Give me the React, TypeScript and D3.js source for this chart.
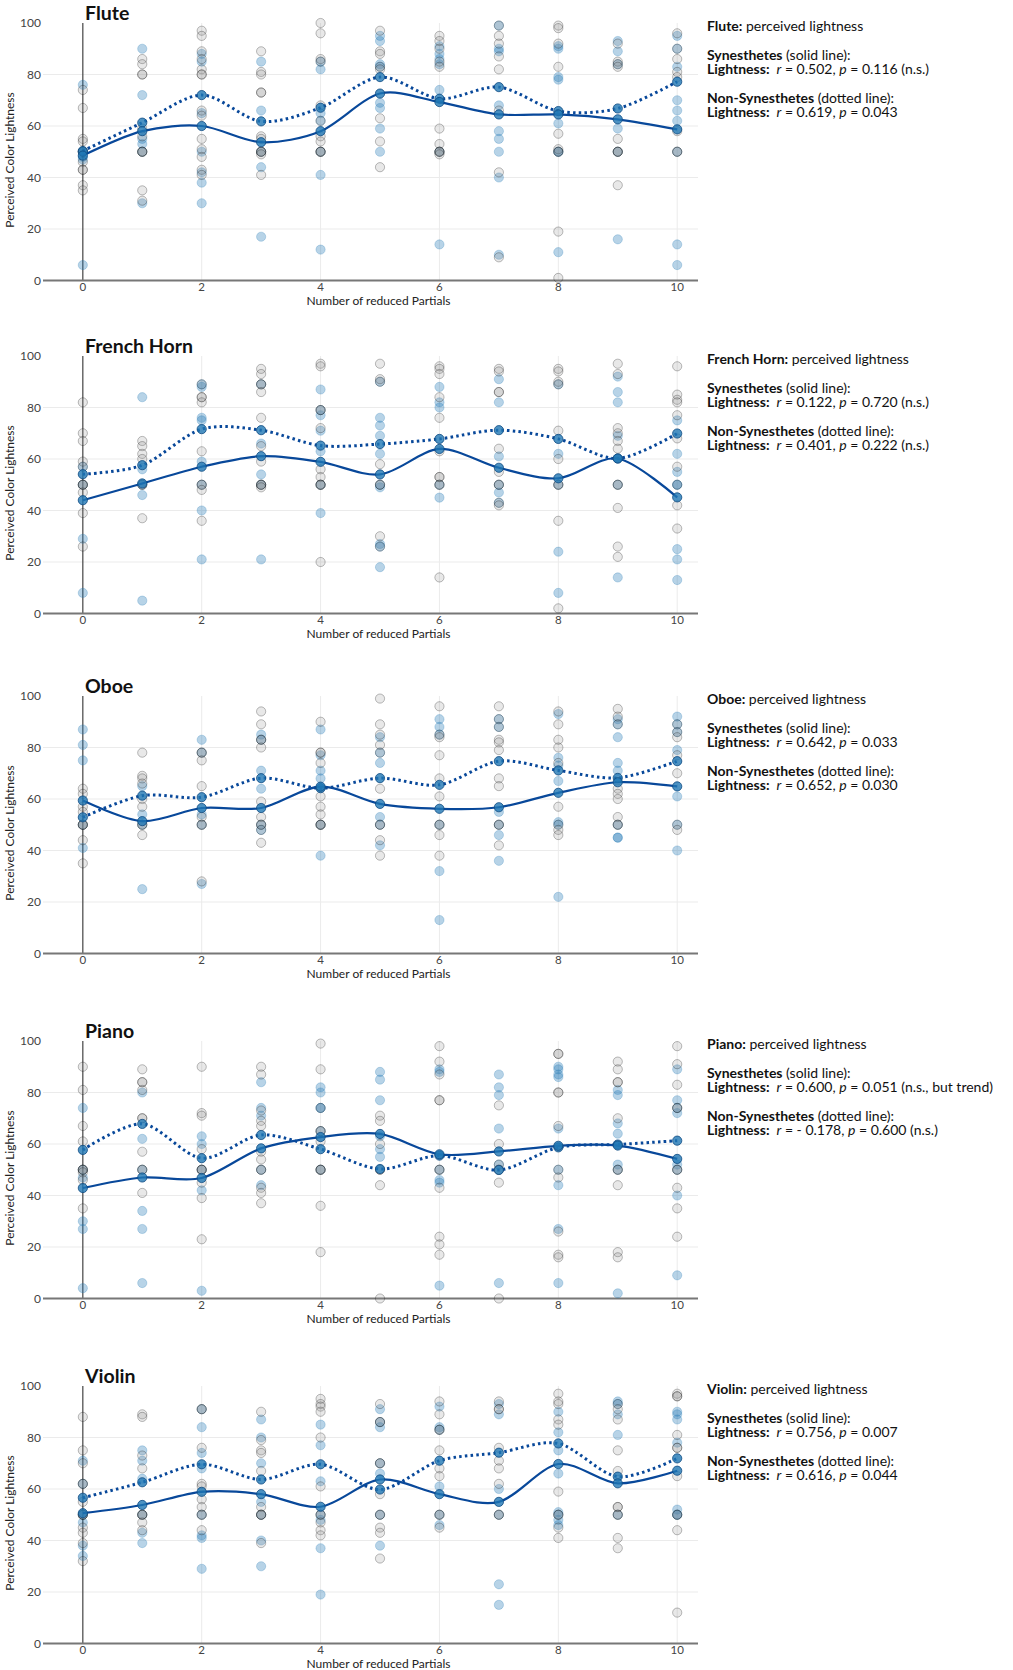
import * as d3 from 'd3';

// number of reduced partials
const partials = [0, 1, 2, 3, 4, 5, 6, 7, 8, 9, 10];
const xTicks = [0, 2, 4, 6, 8, 10];
const yTicks = [0, 20, 40, 60, 80, 100];
const instruments = ['Flute', 'French Horn', 'Oboe', 'Piano', 'Violin'];

// Flute
const fluteSynMean = [48.5, 58, 60, 53.7, 58, 72.6, 69.3, 64.5, 64.5, 62.6, 58.7];
const fluteNonMean = [50.3, 61.3, 72, 61.8, 67.1, 79, 70.6, 75.1, 65.8, 66.8, 77.2];
const fluteSynPts = [
  [76, 50, 50, 48, 47, 6], [90, 72, 55, 53, 50, 30], [88, 85, 65, 50, 42, 38, 30],
  [85, 66, 50, 44, 17], [85, 82, 65, 62, 50, 41, 12], [95, 93, 84, 83, 69, 67, 59, 50],
  [91, 88, 86, 84, 74, 50, 14], [99, 90, 89, 68, 58, 55, 50, 40, 10],
  [91, 90, 79, 78, 61, 50, 50, 11], [93, 89, 84, 59, 50, 16], [95, 90, 83, 70, 66, 62, 50, 14, 6],
];
const fluteNonPts = [
  [74, 67, 55, 54, 50, 50, 50, 46, 43, 43, 37, 35], [86, 84, 80, 80, 59, 56, 50, 50, 50, 35, 31],
  [97, 95, 89, 86, 82, 80, 80, 66, 64, 55, 51, 48, 43, 41], [89, 81, 80, 73, 73, 56, 55, 50, 50, 50, 49, 41],
  [100, 96, 86, 85, 68, 62, 56, 54, 50, 50, 50], [97, 89, 88, 83, 82, 63, 54, 44],
  [95, 93, 90, 85, 83, 59, 53, 50, 50, 50, 49], [99, 95, 92, 87, 82, 66, 42, 9],
  [99, 98, 92, 83, 57, 51, 50, 50, 19, 1], [92, 85, 84, 83, 55, 50, 50, 50, 37],
  [96, 90, 86, 81, 79, 58, 50, 50],
];

// French Horn
const hornSynMean = [44, 50.5, 57, 61.1, 58.9, 54, 63.9, 56.6, 52.5, 60.2, 45.1];
const hornNonMean = [54.1, 57.6, 71.6, 71.2, 65.2, 65.8, 67.8, 71.2, 67.8, 60.2, 69.9];
const hornSynPts = [
  [57, 50, 29, 8], [84, 56, 50, 46, 5], [89, 88, 76, 75, 59, 50, 40, 21], [89, 66, 54, 50, 21],
  [87, 79, 77, 71, 63, 50, 39], [90, 76, 73, 69, 62, 50, 49, 27, 26, 18], [88, 82, 80, 50, 45],
  [91, 82, 61, 50, 47, 43], [89, 62, 50, 24, 8], [92, 86, 82, 69, 50, 14], [75, 62, 55, 50, 50, 25, 21, 13],
];
const hornNonPts = [
  [82, 70, 67, 59, 57, 50, 50, 50, 47, 39, 26], [67, 65, 62, 60, 50, 50, 37],
  [89, 84, 84, 82, 63, 50, 50, 48, 36], [95, 93, 89, 89, 86, 76, 65, 59, 50, 50, 50, 49],
  [97, 96, 79, 79, 72, 56, 53, 50, 50, 50, 20], [97, 91, 90, 58, 50, 50, 30, 26],
  [96, 95, 93, 84, 76, 63, 53, 53, 50, 50, 14], [95, 94, 86, 86, 64, 55, 50, 50, 43, 42],
  [95, 94, 90, 89, 71, 60, 50, 50, 36, 2], [97, 93, 72, 70, 67, 64, 50, 50, 41, 26, 22],
  [96, 85, 83, 82, 77, 68, 57, 50, 42, 33],
];

// Oboe
const oboeSynMean = [59.4, 51.4, 56.5, 56.5, 64.8, 58.1, 56.2, 56.8, 62.4, 66.5, 64.9];
const oboeNonMean = [52.9, 61.3, 60.7, 68.1, 64.2, 68.1, 65.5, 74.7, 71.1, 68.2, 74.7];
const oboeSynPts = [
  [87, 81, 75, 50, 41], [65, 54, 50, 25], [83, 78, 54, 50, 27], [85, 83, 71, 64, 50, 48],
  [87, 77, 71, 68, 50, 38], [84, 78, 74, 53, 50, 42], [91, 88, 85, 50, 32, 13], [91, 88, 55, 50, 46, 36],
  [93, 76, 73, 67, 51, 50, 22], [91, 89, 84, 74, 71, 50, 45, 45], [92, 89, 86, 79, 61, 50, 40],
];
const oboeNonPts = [
  [64, 62, 57, 55, 50, 50, 50, 44, 35], [78, 69, 68, 66, 60, 57, 50, 50, 46], [78, 78, 75, 65, 53, 50, 50, 28],
  [94, 89, 83, 83, 80, 59, 53, 50, 50, 48, 43], [90, 78, 78, 74, 61, 57, 54, 50, 50, 50],
  [99, 89, 85, 81, 78, 64, 50, 50, 44, 38], [96, 85, 84, 77, 68, 61, 50, 50, 46, 38],
  [96, 91, 88, 83, 82, 79, 68, 65, 50, 50, 42], [94, 89, 83, 80, 74, 57, 50, 48, 46],
  [95, 92, 89, 64, 62, 60, 53, 50, 50], [89, 86, 84, 77, 70, 50, 48],
];

// Piano
const pianoSynMean = [42.9, 47, 46.8, 58.3, 62.7, 63.9, 56, 57.1, 59.3, 59.4, 54.2];
const pianoNonMean = [57.7, 67.8, 54.5, 63.5, 58, 50.3, 55.5, 49.9, 58.7, 59.8, 61.3];
const pianoSynPts = [
  [74, 50, 47, 30, 27, 4], [80, 62, 50, 34, 27, 6], [63, 60, 50, 42, 3], [84, 74, 71, 50, 44],
  [82, 80, 74, 74, 65, 50], [88, 85, 77, 63, 58, 55], [89, 88, 50, 46, 45, 5], [87, 82, 79, 66, 52, 6],
  [90, 89, 87, 86, 66, 50, 44, 27, 6], [81, 79, 68, 64, 52, 50, 2], [89, 77, 74, 72, 52, 50, 40, 9],
];
const pianoNonPts = [
  [90, 81, 67, 61, 50, 50, 50, 49, 46, 35], [89, 84, 84, 81, 70, 70, 57, 50, 50, 41],
  [90, 72, 71, 58, 50, 50, 50, 45, 39, 23], [90, 87, 73, 69, 67, 57, 54, 50, 50, 43, 41, 37],
  [99, 89, 74, 65, 65, 61, 50, 50, 50, 36, 18], [71, 69, 60, 50, 50, 44, 0],
  [98, 92, 87, 77, 77, 50, 50, 43, 24, 21, 17], [75, 60, 52, 50, 50, 45, 0],
  [95, 95, 80, 80, 67, 50, 47, 26, 17, 16], [92, 89, 84, 84, 70, 50, 50, 44, 18, 16],
  [98, 91, 83, 74, 74, 50, 50, 43, 35, 24],
];

// Violin
const violinSynMean = [50.6, 53.8, 58.9, 58, 53.1, 63.7, 58, 55, 69.7, 62.2, 67.1];
const violinNonMean = [56.6, 62.6, 69.6, 63.7, 69.6, 59.8, 71, 74.1, 77.7, 64.8, 71.9];
const violinSynPts = [
  [71, 62, 50, 47, 38, 34], [75, 71, 64, 50, 43, 39], [91, 84, 74, 68, 50, 42, 41, 29],
  [87, 80, 70, 55, 50, 40, 30], [85, 77, 63, 50, 48, 37, 19], [91, 86, 84, 70, 66, 50, 38],
  [92, 84, 83, 61, 50, 46], [93, 89, 60, 50, 23, 15], [90, 82, 75, 66, 51, 50, 48, 46],
  [94, 93, 89, 81, 50], [90, 89, 87, 78, 52, 50, 50],
];
const violinNonPts = [
  [88, 75, 70, 62, 62, 55, 50, 50, 50, 45, 43, 39, 32], [89, 88, 73, 68, 50, 50, 50, 47, 44],
  [91, 91, 76, 62, 61, 56, 53, 50, 50, 44], [90, 79, 75, 74, 67, 53, 50, 50, 50, 39],
  [95, 93, 92, 90, 80, 61, 50, 50, 47, 44, 42], [93, 86, 86, 70, 70, 58, 50, 50, 45, 43, 33],
  [94, 89, 83, 83, 75, 68, 65, 50, 50, 45], [94, 91, 91, 76, 71, 68, 62, 50, 50],
  [97, 94, 93, 87, 85, 59, 50, 50, 45, 41], [93, 91, 87, 75, 67, 53, 53, 50, 50, 41, 37],
  [97, 96, 96, 81, 76, 76, 65, 50, 50, 44, 12],
];

// correlation statistics
const synR = ['0.502', '0.122', '0.642', '0.600', '0.756'];
const synP = ['0.116', '0.720', '0.033', '0.051', '0.007'];
const synNote = [' (n.s.)', ' (n.s.)', '', ' (n.s., but trend)', ''];
const nonR = ['0.619', '0.401', '0.652', '- 0.178', '0.616'];
const nonP = ['0.043', '0.222', '0.030', '0.600', '0.044'];
const nonNote = ['', ' (n.s.)', '', ' (n.s.)', ''];

const synMeans = [fluteSynMean, hornSynMean, oboeSynMean, pianoSynMean, violinSynMean];
const nonMeans = [fluteNonMean, hornNonMean, oboeNonMean, pianoNonMean, violinNonMean];
const synPoints = [fluteSynPts, hornSynPts, oboeSynPts, pianoSynPts, violinSynPts];
const nonPoints = [fluteNonPts, hornNonPts, oboeNonPts, pianoNonPts, violinNonPts];

const W = 1013;
const H = 1670;
const FONT = 'Lato, "Open Sans", sans-serif';
const panelTop = [23, 356, 696, 1041, 1386];
const plotH = 257.5;
const xLeft = 43;
const xRight = 698;
const lineColor = '#08489a';
const R = 4.6;

const x = d3.scaleLinear().domain([-0.67, 10.35]).range([xLeft, xRight]);

function Panel({ idx }: { idx: number }) {
  const top = panelTop[idx];
  const y = d3.scaleLinear().domain([0, 100]).range([top + plotH, top]);
  const line = d3.line<number>()
    .x((_, i) => x(partials[i]))
    .y(d => y(d))
    .curve(d3.curveCardinal.tension(0.1));
  const name = instruments[idx];
  const tx = 707;

  return (
    <g>
      {/* grid */}
      {yTicks.filter(t => t > 0 && t < 100).map(t => (
        <line key={'gy' + t} x1={xLeft} x2={xRight} y1={y(t)} y2={y(t)} stroke="#ebebeb" strokeWidth={1} />
      ))}
      {xTicks.filter(t => t > 0).map(t => (
        <line key={'gx' + t} x1={x(t)} x2={x(t)} y1={y(0)} y2={y(100)} stroke="#ebebeb" strokeWidth={1} />
      ))}
      {/* zero line */}
      <line x1={x(0)} x2={x(0)} y1={y(0)} y2={y(100)} stroke="#444" strokeWidth={1.2} />
      <line x1={xLeft} x2={xRight} y1={y(0)} y2={y(0)} stroke="#777" strokeWidth={2} />

      {/* tick labels */}
      {yTicks.map(t => (
        <text key={'ty' + t} x={41} y={y(t) + 4} textAnchor="end" fontSize={12} fill="#444" fontFamily={FONT}>{t}</text>
      ))}
      {xTicks.map(t => (
        <text key={'tx' + t} x={x(t)} y={y(0) + 10} textAnchor="middle" fontSize={11.5} fill="#444" fontFamily={FONT}>{t}</text>
      ))}
      <text x={(xLeft + xRight) / 2 + 8} y={y(0) + 24} textAnchor="middle" fontSize={12} fill="#222" fontFamily={FONT}>
        Number of reduced Partials
      </text>
      <text transform={`translate(14, ${top + 137}) rotate(-90)`} textAnchor="middle" fontSize={12} fill="#222" fontFamily={FONT}>
        Perceived Color Lightness
      </text>

      {/* individual ratings */}
      {synPoints[idx].map((vals, i) => vals.map((v, j) => (
        <circle key={`s${i}-${j}`} cx={x(partials[i])} cy={y(v)} r={R}
          fill="rgba(31,119,180,0.32)" stroke="rgba(31,119,180,0.25)" strokeWidth={1} />
      )))}
      {nonPoints[idx].map((vals, i) => vals.map((v, j) => (
        <circle key={`n${i}-${j}`} cx={x(partials[i])} cy={y(v)} r={R}
          fill="rgba(140,140,140,0.2)" stroke="rgba(0,0,0,0.26)" strokeWidth={1} />
      )))}

      {/* means */}
      <path d={line(nonMeans[idx]) || ''} fill="none" stroke={lineColor} strokeWidth={3} strokeDasharray="2.5,3.2" />
      <path d={line(synMeans[idx]) || ''} fill="none" stroke={lineColor} strokeWidth={2.2} />
      {[nonMeans[idx], synMeans[idx]].map((arr, k) => arr.map((v, i) => (
        <circle key={`m${k}-${i}`} cx={x(partials[i])} cy={y(v)} r={R}
          fill="rgba(31,119,180,0.8)" stroke="rgba(15,75,130,0.8)" strokeWidth={1} />
      )))}

      {/* title */}
      <text x={85} y={top - 3.5} fontSize={19.5} fontWeight="bold" fill="#111" fontFamily={FONT}>{name}</text>

      {/* statistics */}
      <g fontFamily={FONT} fontSize={14} fill="#111">
        <text x={tx} y={top + 8}>
          <tspan fontWeight="bold">{name}:</tspan> perceived lightness
        </text>
        <text x={tx} y={top + 37}>
          <tspan fontWeight="bold">Synesthetes</tspan> (solid line):
        </text>
        <text x={tx} y={top + 51}>
          <tspan fontWeight="bold">Lightness:</tspan>
          <tspan dx={7} fontStyle="italic">r</tspan> = {synR[idx]}, <tspan fontStyle="italic">p</tspan> = {synP[idx]}{synNote[idx]}
        </text>
        <text x={tx} y={top + 80}>
          <tspan fontWeight="bold">Non-Synesthetes</tspan> (dotted line):
        </text>
        <text x={tx} y={top + 94}>
          <tspan fontWeight="bold">Lightness:</tspan>
          <tspan dx={7} fontStyle="italic">r</tspan> = {nonR[idx]}, <tspan fontStyle="italic">p</tspan> = {nonP[idx]}{nonNote[idx]}
        </text>
      </g>
    </g>
  );
}

export default function App() {
  return (
    <svg width={W} height={H} style={{ position: 'absolute', left: 0, top: 0, background: '#fff' }}>
      <rect width={W} height={H} fill="#fff" />
      {instruments.map((_, i) => <Panel key={i} idx={i} />)}
    </svg>
  );
}
